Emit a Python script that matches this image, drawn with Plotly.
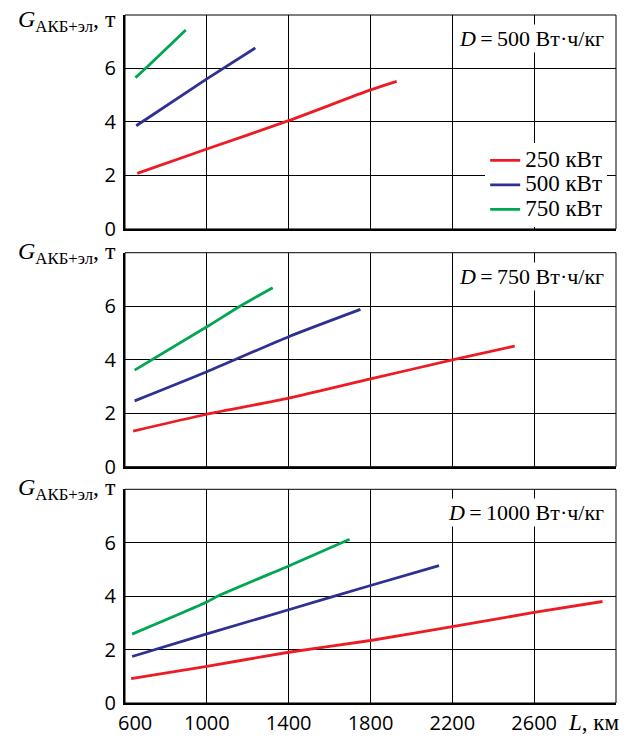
import plotly.graph_objects as go

# ---- data ----
x_ticks = [1000, 1400, 1800, 2200, 2600]
y_ticks = [0, 2, 4, 6]
power_labels = ["250 кВт", "500 кВт", "750 кВт"]
line_colors = ["#ed1c24", "#2e3192", "#00a651"]
densities = [500, 750, 1000]

# D = 500 Вт·ч/кг
d500_250_L = [660, 1000, 1400, 1800, 1928]
d500_250_G = [2.08, 2.99, 4.05, 5.20, 5.52]
d500_500_L = [655, 1000, 1237]
d500_500_G = [3.86, 5.61, 6.77]
d500_750_L = [651, 700, 897]
d500_750_G = [5.66, 6.00, 7.44]

# D = 750 Вт·ч/кг
d750_250_L = [640, 1000, 1400, 1800, 2200, 2505]
d750_250_G = [1.33, 1.96, 2.56, 3.28, 3.99, 4.51]
d750_500_L = [647, 1000, 1400, 1751]
d750_500_G = [2.46, 3.55, 4.86, 5.88]
d750_750_L = [647, 1000, 1162, 1322]
d750_750_G = [3.61, 5.23, 6.00, 6.69]

# D = 1000 Вт·ч/кг
d1000_250_L = [630, 1000, 1400, 1800, 2200, 2600, 2934]
d1000_250_G = [0.91, 1.37, 1.90, 2.34, 2.86, 3.39, 3.80]
d1000_500_L = [635, 1000, 1400, 1800, 2135]
d1000_500_G = [1.74, 2.59, 3.49, 4.40, 5.14]
d1000_750_L = [635, 1000, 1052, 1400, 1698]
d1000_750_G = [2.58, 3.78, 4.00, 5.13, 6.13]

panels = [
    [(d500_250_L, d500_250_G), (d500_500_L, d500_500_G), (d500_750_L, d500_750_G)],
    [(d750_250_L, d750_250_G), (d750_500_L, d750_500_G), (d750_750_L, d750_750_G)],
    [(d1000_250_L, d1000_250_G), (d1000_500_L, d1000_500_G), (d1000_750_L, d1000_750_G)],
]

SERIF = "Liberation Serif"
SANS = "Open Sans"

fig = go.Figure()

domains = [[0.689, 1.0], [0.3435, 0.6545], [0.0, 0.3106]]
title_y = [0.972, 1.0, 1.0]

for p, series in enumerate(panels):
    xa = "x" if p == 0 else f"x{p+1}"
    ya = "y" if p == 0 else f"y{p+1}"
    for s, (L, G) in enumerate(series):
        fig.add_trace(go.Scatter(
            x=L, y=G, mode="lines", xaxis=xa, yaxis=ya,
            line=dict(color=line_colors[s], width=2.8, shape="spline", smoothing=0.6),
            name=f'<span style="font-size:23px">{power_labels[s]}</span>',
            showlegend=(p == 0),
        ))

layout = {}
for p in range(3):
    xk = "xaxis" if p == 0 else f"xaxis{p+1}"
    yk = "yaxis" if p == 0 else f"yaxis{p+1}"
    yref = "y" if p == 0 else f"y{p+1}"
    xref = "x" if p == 0 else f"x{p+1}"
    layout[xk] = dict(
        domain=[0, 1], anchor=yref, range=[600, 3000], automargin=False,
        tickvals=x_ticks, showticklabels=(p == 2), ticks="",
        showgrid=True, gridcolor="black", gridwidth=1,
        showline=True, linecolor="black", linewidth=2, zeroline=False,
        tickfont=dict(family=SANS, size=20, color="black"),
        ticklabelstandoff=1,
    )
    if p < 2:
        layout[xk]["matches"] = "x3"
    layout[yk] = dict(
        domain=domains[p], anchor=xref, range=[0, 8], automargin=False,
        tickvals=y_ticks, ticks="",
        showgrid=True, gridcolor="black", gridwidth=1,
        showline=True, linecolor="black", linewidth=2, zeroline=False,
        tickfont=dict(family=SANS, size=20, color="black"),
        ticklabelstandoff=3,
    )

fig.update_layout(**layout)

shapes = []
annotations = []
for p in range(3):
    xr = "x" if p == 0 else f"x{p+1}"
    yr = "y" if p == 0 else f"y{p+1}"
    shapes.append(dict(type="rect", xref=f"{xr} domain", yref=f"{yr} domain",
                       x0=0, x1=1, y0=0, y1=1, line=dict(color="black", width=1), layer="above"))
    annotations.append(dict(
        xref=f"{xr} domain", yref=f"{yr} domain", x=0.98, y=0.89,
        xanchor="right", yanchor="middle", showarrow=False,
        text=f"<i>D</i>\u2009=\u2009{densities[p]} Вт·ч/кг", bgcolor="white", borderpad=1,
        font=dict(family=SERIF, size=22, color="black"),
    ))
    annotations.append(dict(
        xref="paper", yref=f"{yr} domain", x=-0.014, y=title_y[p],
        xanchor="right", yanchor="middle", showarrow=False,
        text="<i>G</i><sub>АКБ+эл</sub>, т",
        font=dict(family=SERIF, size=24, color="black"),
    ))

annotations.append(dict(xref="x3", yref="paper", x=647, y=-0.028, xanchor="center",
                        yanchor="middle", showarrow=False, text="600",
                        font=dict(family=SANS, size=20, color="black")))
annotations.append(dict(xref="x3", yref="paper", x=2890, y=-0.028, xanchor="center",
                        yanchor="middle", showarrow=False, text="<i>L</i>, км",
                        font=dict(family=SERIF, size=23, color="black")))

# page body adds an 8px offset; margins compensate so the plot area sits at 125..616 x 15..703
fig.update_layout(
    width=636, height=738,
    margin=dict(l=117, r=28, t=7, b=43),
    paper_bgcolor="white", plot_bgcolor="white",
    shapes=shapes, annotations=annotations,
    showlegend=True,
    legend=dict(x=0.982, y=0.8136, xanchor="right", yanchor="top",
                bgcolor="white", borderwidth=0,
                font=dict(family=SERIF, size=16.5, color="black"),
                itemwidth=30, tracegroupgap=0),
)

fig.write_html("out.html")
